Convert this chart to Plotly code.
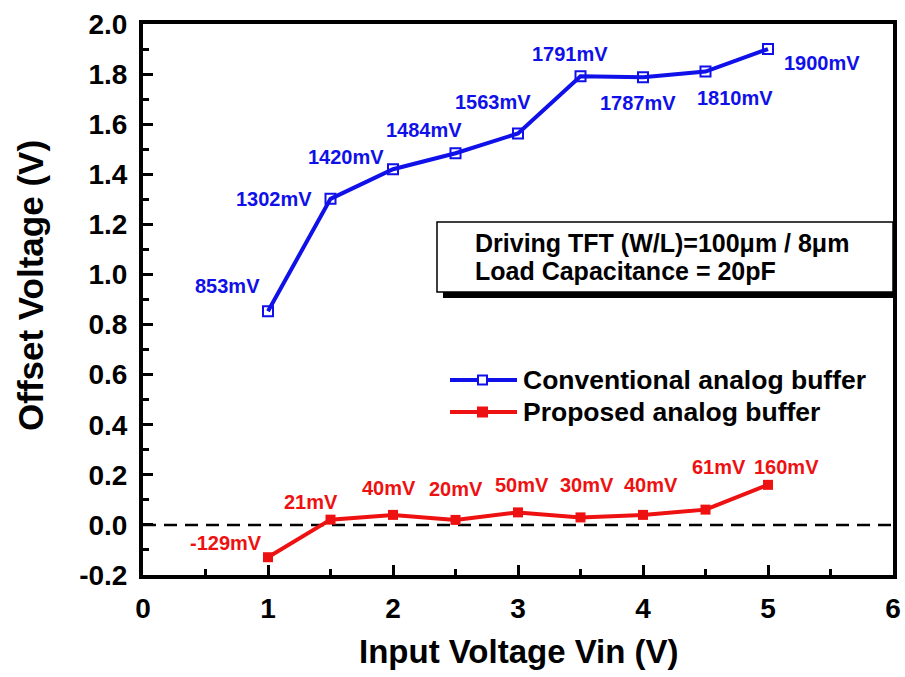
import plotly.graph_objects as go

# ---- data ----
vin = [1, 1.5, 2, 2.5, 3, 3.5, 4, 4.5, 5]
conv_mv = [853, 1302, 1420, 1484, 1563, 1791, 1787, 1810, 1900]
prop_mv = [-129, 21, 40, 20, 50, 30, 40, 61, 160]
conv_name = "Conventional analog buffer"
prop_name = "Proposed analog buffer"
box_lines = ["Driving TFT (W/L)=100\u03bcm / 8\u03bcm", "Load Capacitance = 20pF"]
x_title = "Input Voltage Vin (V)"
y_title = "Offset Voltage (V)"
y_tick_vals = [-0.2, 0.0, 0.2, 0.4, 0.6, 0.8, 1.0, 1.2, 1.4, 1.6, 1.8, 2.0]
y_tick_text = ["-0.2", "0.0", "0.2", "0.4", "0.6", "0.8", "1.0", "1.2", "1.4", "1.6", "1.8", "2.0"]

# label placement offsets (pixels, dx, dy-up)
conv_off = [(-41, 25), (-57, 0), (-47, 12), (-32, 23), (-25, 31), (-11, 22), (-5, -26), (29, -26), (54, -14)]
prop_off = [(-42, 14), (-20, 18), (-4, 27), (0, 31), (4, 27), (6, 32), (8, 30), (13, 43), (18, 18)]

BLUE = "#1010e8"
RED = "#ee1111"
FONT = "Liberation Sans, Arial, sans-serif"

conv_v = [v / 1000 for v in conv_mv]
prop_v = [v / 1000 for v in prop_mv]

W, H = 905, 677
# target plot area in window pixels
PL, PR, PT, PB = 143, 893, 24, 575
L, T = PL, PT
R = W - PR
B = H - PB
PW, PH = PR - PL, PB - PT


def px(x):
    return (x - PL) / PW


def py(y):
    return (PB - y) / PH


fig = go.Figure()
fig.add_trace(go.Scatter(
    x=vin, y=conv_v, mode="lines+markers", name=conv_name,
    line=dict(color=BLUE, width=4),
    marker=dict(symbol="square-open", size=10, color=BLUE, line=dict(width=2, color=BLUE)),
    showlegend=False,
))
fig.add_trace(go.Scatter(
    x=vin, y=prop_v, mode="lines+markers", name=prop_name,
    line=dict(color=RED, width=4),
    marker=dict(symbol="square", size=10, color=RED),
    showlegend=False,
))

annotations = []
for xv, yv, mv, (dx, dy) in zip(vin, conv_v, conv_mv, conv_off):
    annotations.append(dict(x=xv, y=yv, xref="x", yref="y", text=f"{mv}mV", showarrow=False,
                            xshift=dx, yshift=dy, font=dict(family=FONT, size=20, color=BLUE, weight="bold")))
for xv, yv, mv, (dx, dy) in zip(vin, prop_v, prop_mv, prop_off):
    annotations.append(dict(x=xv, y=yv, xref="x", yref="y", text=f"{mv}mV", showarrow=False,
                            xshift=dx, yshift=dy, font=dict(family=FONT, size=20, color=RED, weight="bold")))

# info box text
for i, line in enumerate(box_lines):
    annotations.append(dict(x=px(473), y=py(243 + 28 * i), xref="paper", yref="paper", text=line,
                            showarrow=False, xanchor="left", yanchor="middle",
                            font=dict(family=FONT, size=25, color="black", weight="bold")))

# legend text
for i, (name, col) in enumerate([(conv_name, BLUE), (prop_name, RED)]):
    annotations.append(dict(x=px(521), y=py(380 + 32 * i), xref="paper", yref="paper", text=name,
                            showarrow=False, xanchor="left", yanchor="middle",
                            font=dict(family=FONT, size=26.5, color="black", weight="bold")))

# axis titles
annotations.append(dict(x=px(519), y=py(651), xref="paper", yref="paper", text=x_title, showarrow=False,
                        xanchor="center", yanchor="middle",
                        font=dict(family=FONT, size=33, color="black", weight="bold")))
annotations.append(dict(x=px(30), y=py(286), xref="paper", yref="paper", text=y_title, showarrow=False,
                        textangle=-90, xanchor="center", yanchor="middle",
                        font=dict(family=FONT, size=35, color="black", weight="bold")))

shapes = [
    # zero dashed line
    dict(type="line", xref="paper", yref="y", x0=0, x1=1, y0=0, y1=0,
         line=dict(color="black", width=2.5, dash="13px,8px"), layer="below"),
    # box shadow
    dict(type="rect", xref="paper", yref="paper", x0=px(443), x1=px(897), y0=py(298), y1=py(228),
         fillcolor="black", line=dict(width=0)),
    # box
    dict(type="rect", xref="paper", yref="paper", x0=px(437), x1=px(893), y0=py(292), y1=py(222),
         fillcolor="white", line=dict(color="black", width=1.5)),
]
# legend samples
for i, col in enumerate([BLUE, RED]):
    yy = py(380 + 32 * i)
    shapes.append(dict(type="line", xref="paper", yref="paper", x0=px(450), x1=px(517), y0=yy, y1=yy,
                       line=dict(color=col, width=4)))
    fill = "white" if i == 0 else col
    shapes.append(dict(type="rect", xref="paper", yref="paper", x0=px(478), x1=px(487),
                       y0=yy - 4.5 / PH, y1=yy + 4.5 / PH, fillcolor=fill, line=dict(color=col, width=2)))

fig.update_layout(
    width=W, height=H,
    margin=dict(l=L, r=R, t=T, b=B, autoexpand=False),
    paper_bgcolor="white", plot_bgcolor="white",
    showlegend=False,
    annotations=annotations,
    shapes=shapes,
    font=dict(family=FONT, color="black"),
)
fig.update_xaxes(
    range=[0, 6], tick0=0, dtick=1, showgrid=False, zeroline=False,
    showline=True, linecolor="black", linewidth=4, mirror=True,
    ticks="inside", ticklen=10, tickwidth=3, tickcolor="black",
    minor=dict(dtick=0.5, ticks="inside", ticklen=6, tickwidth=3, tickcolor="black", showgrid=False),
    tickfont=dict(family=FONT, size=28, color="black", weight="bold"),
    ticklabelstandoff=5, ticklabeloverflow="allow",
)
fig.update_yaxes(
    range=[-0.2, 2.0], tickmode="array", tickvals=y_tick_vals, ticktext=y_tick_text,
    showgrid=False, zeroline=False,
    showline=True, linecolor="black", linewidth=4, mirror=True,
    ticks="inside", ticklen=10, tickwidth=3, tickcolor="black",
    minor=dict(tick0=0, dtick=0.1, ticks="inside", ticklen=6, tickwidth=3, tickcolor="black", showgrid=False),
    tickfont=dict(family=FONT, size=28, color="black", weight="bold"),
    ticklabelstandoff=6,
)

fig.write_html("out.html", config={"displayModeBar": False},
               post_script="document.body.style.margin='0';document.body.style.overflow='hidden';")
